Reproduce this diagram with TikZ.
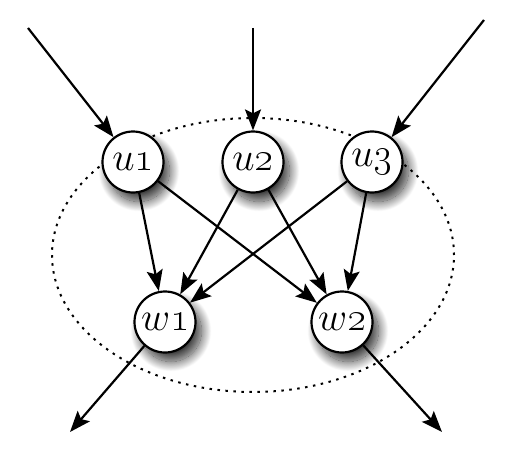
\documentclass[tikz,border=0pt]{standalone}
\usepackage{fix-cm}
\usetikzlibrary{arrows.meta,shadows.blur}
\begin{document}
\begin{tikzpicture}[x=1pt,y=-1pt,
  nd/.style={circle,draw,line width=2.2pt,fill=white,minimum size=61pt,inner sep=0pt,
    font=\fontsize{40}{44}\selectfont,
    blur shadow={shadow xshift=6pt,shadow yshift=-9pt,shadow blur radius=10pt,shadow blur steps=25,shadow opacity=80}},
  ar/.style={line width=2.2pt,-{Stealth[length=21pt,width=16pt,inset=4pt]}}]
\useasboundingbox (0,0) rectangle (506,460);
\draw[line width=2pt,dash pattern=on 2.5pt off 5.5pt] (253,255) ellipse [x radius=201pt,y radius=137pt];
\node[nd] (u1) at (133,162) {$u$\oldstylenums{1}};
\node[nd] (u2) at (253,162) {$u$\oldstylenums{2}};
\node[nd] (u3) at (372,162) {$u$\oldstylenums{3}};
\node[nd] (w1) at (165,322) {$w$\oldstylenums{1}};
\node[nd] (w2) at (342,322) {$w$\oldstylenums{2}};
\coordinate (a) at (28,28);
\coordinate (b) at (253,28);
\coordinate (c) at (484,20);
\coordinate (d) at (70,432);
\coordinate (e) at (442,432);
\draw[ar] (a) -- (u1);
\draw[ar] (b) -- (u2);
\draw[ar] (c) -- (u3);
\draw[ar] (u1) -- (w1);
\draw[ar] (u1) -- (w2);
\draw[ar] (u2) -- (w1);
\draw[ar] (u2) -- (w2);
\draw[ar] (u3) -- (w1);
\draw[ar] (u3) -- (w2);
\draw[ar] (w1) -- (d);
\draw[ar] (w2) -- (e);
\end{tikzpicture}
\end{document}
